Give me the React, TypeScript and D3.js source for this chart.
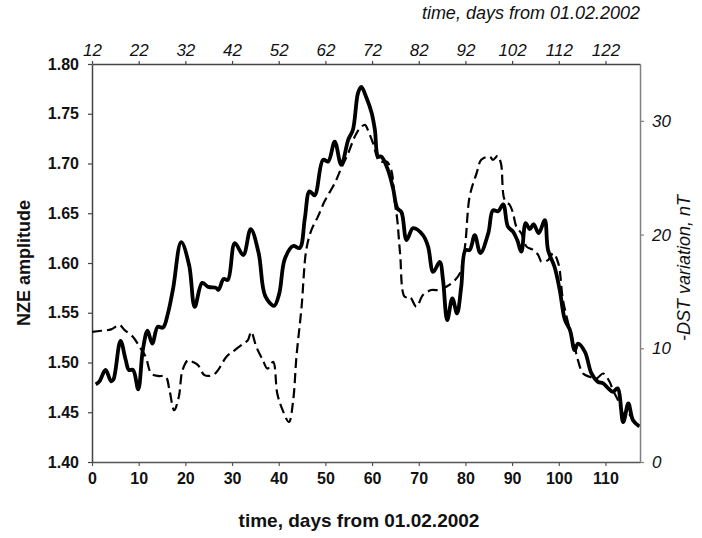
import React, { useEffect, useRef } from 'react';
import * as d3 from 'd3';

// NZE amplitude (solid line, left axis)
const nzeDays = [0.8, 1.6, 2.9, 4.1, 4.6, 6.1, 7.2, 7.9, 8.8, 9.9, 10.9, 11.9, 12.9, 14.1, 15.2, 16.3, 17.4, 19.1, 20.8, 22, 23.6, 24.9, 26.6, 27.1, 28.2, 29.1, 30.6, 32.4, 34, 35.7, 37.1, 39, 40.1, 41.3, 43.1, 44.5, 45.6, 46.6, 47.7, 49.5, 50.6, 52, 53.4, 54.9, 55.9, 57, 57.7, 58.8, 59.9, 60.6, 61.3, 62, 63.4, 64.5, 65.4, 66.3, 67.4, 68.8, 70.9, 72, 73.1, 74.5, 75.2, 76.1, 77.2, 78.2, 79.1, 80, 80.9, 82, 83.2, 84.9, 85.9, 87, 88.1, 89.1, 90.2, 91.1, 92, 92.9, 93.8, 94.6, 95.7, 97, 97.7, 99.1, 100.2, 101.3, 102.4, 103.4, 104.1, 105.6, 107, 108.4, 109.5, 110.6, 111.6, 112.6, 113.8, 114.9, 115.9, 117.2];
const nzeValues = [1.478, 1.481, 1.4925, 1.481, 1.483, 1.5218, 1.503, 1.4925, 1.4925, 1.473, 1.513, 1.532, 1.519, 1.536, 1.535, 1.55, 1.575, 1.621, 1.598, 1.556, 1.58, 1.576, 1.575, 1.573, 1.584, 1.583, 1.62, 1.608, 1.634, 1.61, 1.567, 1.557, 1.569, 1.604, 1.617, 1.615, 1.645, 1.672, 1.668, 1.7037, 1.702, 1.722, 1.6987, 1.724, 1.734, 1.771, 1.777, 1.766, 1.751, 1.734, 1.707, 1.707, 1.6936, 1.675, 1.655, 1.651, 1.623, 1.635, 1.628, 1.6164, 1.591, 1.601, 1.583, 1.5426, 1.5645, 1.5494, 1.576, 1.613, 1.613, 1.628, 1.61, 1.63, 1.653, 1.652, 1.659, 1.6365, 1.6315, 1.623, 1.6114, 1.64, 1.634, 1.639, 1.63, 1.643, 1.613, 1.596, 1.573, 1.543, 1.5326, 1.5124, 1.519, 1.5107, 1.489, 1.4805, 1.479, 1.474, 1.4705, 1.474, 1.44, 1.4588, 1.442, 1.436];

// -DST variation (dashed line, right axis)
const dstDays = [0, 2, 4.1, 5.9, 7, 8.8, 10.2, 11.5, 12.7, 14.1, 15.8, 16.6, 17.6, 18.6, 19.4, 20.6, 21.6, 22.7, 24.1, 25.9, 27, 28.8, 30.6, 32.5, 33.4, 34.1, 35.2, 36.6, 37.6, 38.8, 39.7, 40.8, 42.2, 43.1, 43.8, 44.9, 45.9, 47, 48.4, 49.8, 52, 53.4, 54.9, 56.3, 57.4, 58.5, 59.1, 60.2, 61.6, 63.1, 64.1, 64.9, 65.4, 66, 67, 68.1, 69.5, 70.9, 72.7, 74.5, 75.9, 77.4, 78.8, 79.9, 80.9, 82.4, 83.4, 85.2, 85.9, 86.9, 87.6, 88.4, 89.5, 90.2, 90.9, 92, 93.1, 94.5, 95.6, 96.3, 97.7, 98.8, 99.9, 100.9, 102.4, 103.4, 104.1, 105.2, 106.6, 108.1, 109.5, 110.9, 111.6, 112.7, 113.8, 114.9, 115.9, 117.2];
const dstValues = [11.45, 11.54, 11.66, 12.04, 11.6, 11.0, 10.13, 9.25, 7.78, 7.57, 7.49, 6.31, 4.55, 5.73, 8.08, 8.96, 8.8, 8.52, 7.64, 7.64, 8.08, 9.25, 9.84, 10.43, 10.72, 11.45, 10.13, 8.96, 8.2, 8.81, 6.0, 4.6, 3.52, 5.43, 9.25, 13.65, 18.65, 20.4, 21.58, 22.9, 24.52, 25.84, 27.16, 28.62, 29.36, 29.65, 29.2, 28.04, 26.42, 26.42, 25.69, 22.76, 21.3, 18.35, 14.53, 14.53, 13.65, 14.68, 15.12, 15.12, 15.41, 15.85, 16.59, 18.94, 23.34, 25.4, 26.57, 26.86, 26.57, 26.92, 26.28, 23.05, 22.6, 21.88, 20.7, 20.1, 18.94, 18.65, 18.2, 17.6, 17.76, 18.35, 17.47, 14.24, 11.6, 10.13, 8.96, 7.78, 7.49, 7.35, 7.78, 7.05, 6.31, 5.43, 4.26, 4.26, 3.67, 3.08];

const bottomTicks = [0, 10, 20, 30, 40, 50, 60, 70, 80, 90, 100, 110];
const topTicks = [12, 22, 32, 42, 52, 62, 72, 82, 92, 102, 112, 122];
const leftTicks = [1.4, 1.45, 1.5, 1.55, 1.6, 1.65, 1.7, 1.75, 1.8];
const rightTicks = [0, 10, 20, 30];

const App: React.FC = () => {
  const ref = useRef<SVGSVGElement | null>(null);

  useEffect(() => {
    if (!ref.current) return;
    const svg = d3.select(ref.current);
    svg.selectAll('*').remove();

    const margin = { top: 64, right: 62, bottom: 76, left: 92 };
    const width = 702 - margin.left - margin.right;
    const height = 538 - margin.top - margin.bottom;
    const font = 'Arial, "Liberation Sans", sans-serif';

    const x = d3.scaleLinear().domain([0, 117.4]).range([0, width]);
    const xTop = d3.scaleLinear().domain([12, 129.4]).range([0, width]);
    const yLeft = d3.scaleLinear().domain([1.4, 1.8]).range([height, 0]);
    const yRight = d3.scaleLinear().domain([0, 35]).range([height, 0]);

    const g = svg.append('g').attr('transform', `translate(${margin.left},${margin.top})`);

    const styleAxis = (sel: any, color: string) => {
      sel.select('.domain').attr('stroke', color).attr('stroke-width', 1.5);
      sel.selectAll('.tick line').attr('stroke', color).attr('stroke-width', 1.2);
    };

    const bottom = g
      .append('g')
      .attr('transform', `translate(0,${height})`)
      .call(d3.axisBottom(x).tickValues(bottomTicks).tickSize(4).tickSizeOuter(0).tickPadding(7));
    styleAxis(bottom, '#555');
    bottom
      .selectAll('.tick text')
      .attr('fill', '#111')
      .style('font', `bold 16px ${font}`);

    const top = g
      .append('g')
      .call(d3.axisTop(xTop).tickValues(topTicks).tickSize(3).tickSizeOuter(0).tickPadding(5));
    styleAxis(top, '#444');
    top
      .selectAll('.tick text')
      .attr('fill', '#111')
      .style('font', `italic 17px ${font}`);

    const left = g
      .append('g')
      .call(
        d3
          .axisLeft(yLeft)
          .tickValues(leftTicks)
          .tickFormat(d3.format('.2f'))
          .tickSize(4)
          .tickSizeOuter(0)
          .tickPadding(9)
      );
    styleAxis(left, '#444');
    left
      .selectAll('.tick text')
      .attr('fill', '#111')
      .style('font', `bold 16px ${font}`);

    const right = g
      .append('g')
      .attr('transform', `translate(${width},0)`)
      .call(d3.axisRight(yRight).tickValues(rightTicks).tickSize(4).tickSizeOuter(0).tickPadding(8));
    styleAxis(right, '#808080');
    right
      .selectAll('.tick text')
      .attr('fill', '#111')
      .style('font', `italic 17px ${font}`);

    const dstLine = d3
      .line<number>()
      .x((_, i) => x(dstDays[i]))
      .y((d) => yRight(d))
      .curve(d3.curveCatmullRom.alpha(0.5));

    g.append('path')
      .datum(dstValues)
      .attr('fill', 'none')
      .attr('stroke', '#000')
      .attr('stroke-width', 2.2)
      .attr('stroke-dasharray', '10,5')
      .attr('d', dstLine);

    const nzeLine = d3
      .line<number>()
      .x((_, i) => x(nzeDays[i]))
      .y((d) => yLeft(d))
      .curve(d3.curveCatmullRom.alpha(0.5));

    g.append('path')
      .datum(nzeValues)
      .attr('fill', 'none')
      .attr('stroke', '#000')
      .attr('stroke-width', 3.8)
      .attr('stroke-linejoin', 'round')
      .attr('d', nzeLine);

    svg
      .append('text')
      .attr('x', 640)
      .attr('y', 19)
      .attr('text-anchor', 'end')
      .attr('fill', '#111')
      .style('font', `italic 18px ${font}`)
      .text('time, days from 01.02.2002');

    svg
      .append('text')
      .attr('x', 359)
      .attr('y', 527)
      .attr('text-anchor', 'middle')
      .attr('fill', '#111')
      .style('font', `bold 19px ${font}`)
      .text('time, days from 01.02.2002');

    svg
      .append('text')
      .attr('transform', 'translate(30,263) rotate(-90)')
      .attr('text-anchor', 'middle')
      .attr('fill', '#111')
      .style('font', `bold 18px ${font}`)
      .text('NZE amplitude');

    svg
      .append('text')
      .attr('transform', 'translate(690,268) rotate(-90)')
      .attr('text-anchor', 'middle')
      .attr('fill', '#111')
      .style('font', `italic 18px ${font}`)
      .text('-DST variation, nT');
  }, []);

  return (
    <svg
      ref={ref}
      width={702}
      height={538}
      style={{ position: 'absolute', left: 0, top: 0, background: '#fff' }}
    ></svg>
  );
};

export default App;
